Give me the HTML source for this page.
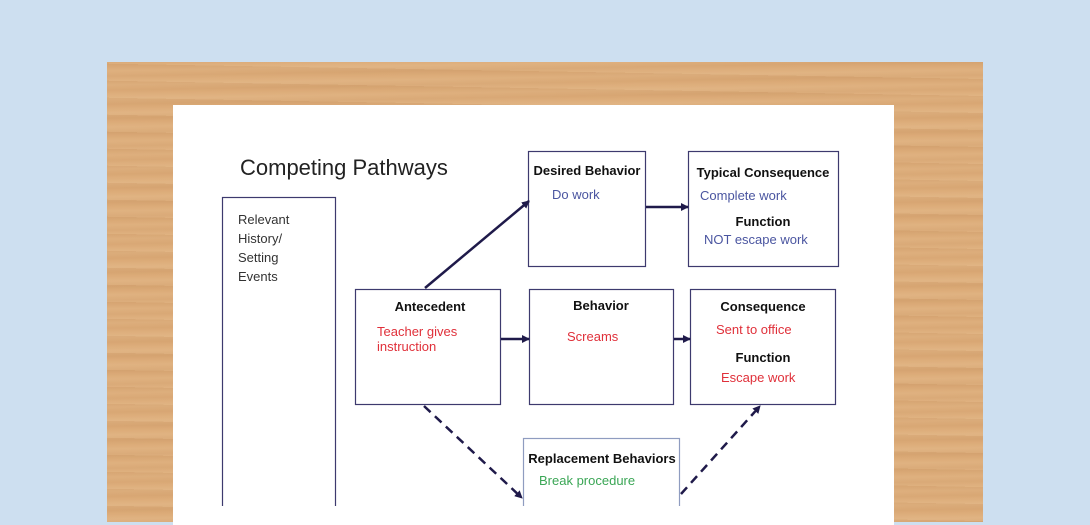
<!DOCTYPE html>
<html><head><style>
html,body{margin:0;padding:0;width:1090px;height:506px;overflow:hidden;background:#cddff0;}
.wood{position:absolute;left:107px;top:62px;width:876px;height:460px;
background:
repeating-linear-gradient(179deg,rgba(150,90,40,0.06) 0px,rgba(150,90,40,0) 4px,rgba(255,235,200,0.08) 9px,rgba(150,90,40,0.05) 14px),
repeating-linear-gradient(181deg,rgba(120,70,30,0.05) 0px,rgba(0,0,0,0) 7px,rgba(255,240,210,0.08) 17px),
#dcab78;}
.paper{position:absolute;left:173px;top:105px;width:721px;height:420px;background:#fff;}
svg{position:absolute;left:0;top:0;}
text{font-family:"Liberation Sans",sans-serif;}
</style></head><body>
<div class="wood"></div>
<div class="paper"></div>
<svg width="1090" height="506" viewBox="0 0 1090 506">
<defs><marker id="a" markerWidth="8" markerHeight="8" refX="7" refY="4" orient="auto" markerUnits="userSpaceOnUse"><path d="M0,0 L8,4 L0,8 z" fill="#1f1a4a"/></marker></defs>
<g fill="none" stroke="#3d3a6e" stroke-width="1.2">
<rect x="222.5" y="197.5" width="113" height="320"/>
<rect x="528.5" y="151.5" width="117" height="115"/>
<rect x="688.5" y="151.5" width="150" height="115"/>
<rect x="355.5" y="289.5" width="145" height="115"/>
<rect x="529.5" y="289.5" width="144" height="115"/>
<rect x="690.5" y="289.5" width="145" height="115"/>
<rect x="523.5" y="438.5" width="156" height="80" stroke="#8f9cc0"/>
</g>
<g stroke="#1f1a4a" stroke-width="2.5" fill="none">
<line x1="425" y1="288" x2="529" y2="201" marker-end="url(#a)"/>
<line x1="501" y1="339" x2="529" y2="339" marker-end="url(#a)"/>
<line x1="674" y1="339" x2="690" y2="339" marker-end="url(#a)"/>
<line x1="646" y1="207" x2="688" y2="207" marker-end="url(#a)"/>
<line x1="424" y1="406" x2="522" y2="498" stroke-dasharray="9,6" marker-end="url(#a)"/>
<line x1="681" y1="494" x2="760" y2="406" stroke-dasharray="9,6" marker-end="url(#a)"/>
</g>
<text x="240" y="175" font-size="22" fill="#222">Competing Pathways</text>
<g font-size="13" fill="#333">
<text x="238" y="224">Relevant</text><text x="238" y="243">History/</text><text x="238" y="262">Setting</text><text x="238" y="281">Events</text>
</g>
<g font-size="13" font-weight="bold" fill="#111" text-anchor="middle">
<text x="587" y="175">Desired Behavior</text>
<text x="763" y="177">Typical Consequence</text>
<text x="763" y="226">Function</text>
<text x="430" y="311">Antecedent</text>
<text x="601" y="310">Behavior</text>
<text x="763" y="311">Consequence</text>
<text x="763" y="362">Function</text>
<text x="602" y="463">Replacement Behaviors</text>
</g>
<g font-size="13">
<text x="552" y="199" fill="#4a55a0">Do work</text>
<text x="700" y="200" fill="#4a55a0">Complete work</text>
<text x="704" y="244" fill="#4a55a0">NOT escape work</text>
<text x="377" y="336" fill="#e0303a">Teacher gives</text>
<text x="377" y="351" fill="#e0303a">instruction</text>
<text x="567" y="341" fill="#e0303a">Screams</text>
<text x="716" y="334" fill="#e0303a">Sent to office</text>
<text x="721" y="382" fill="#e0303a">Escape work</text>
<text x="539" y="485" fill="#3aa655">Break procedure</text>
</g>
</svg>
</body></html>
